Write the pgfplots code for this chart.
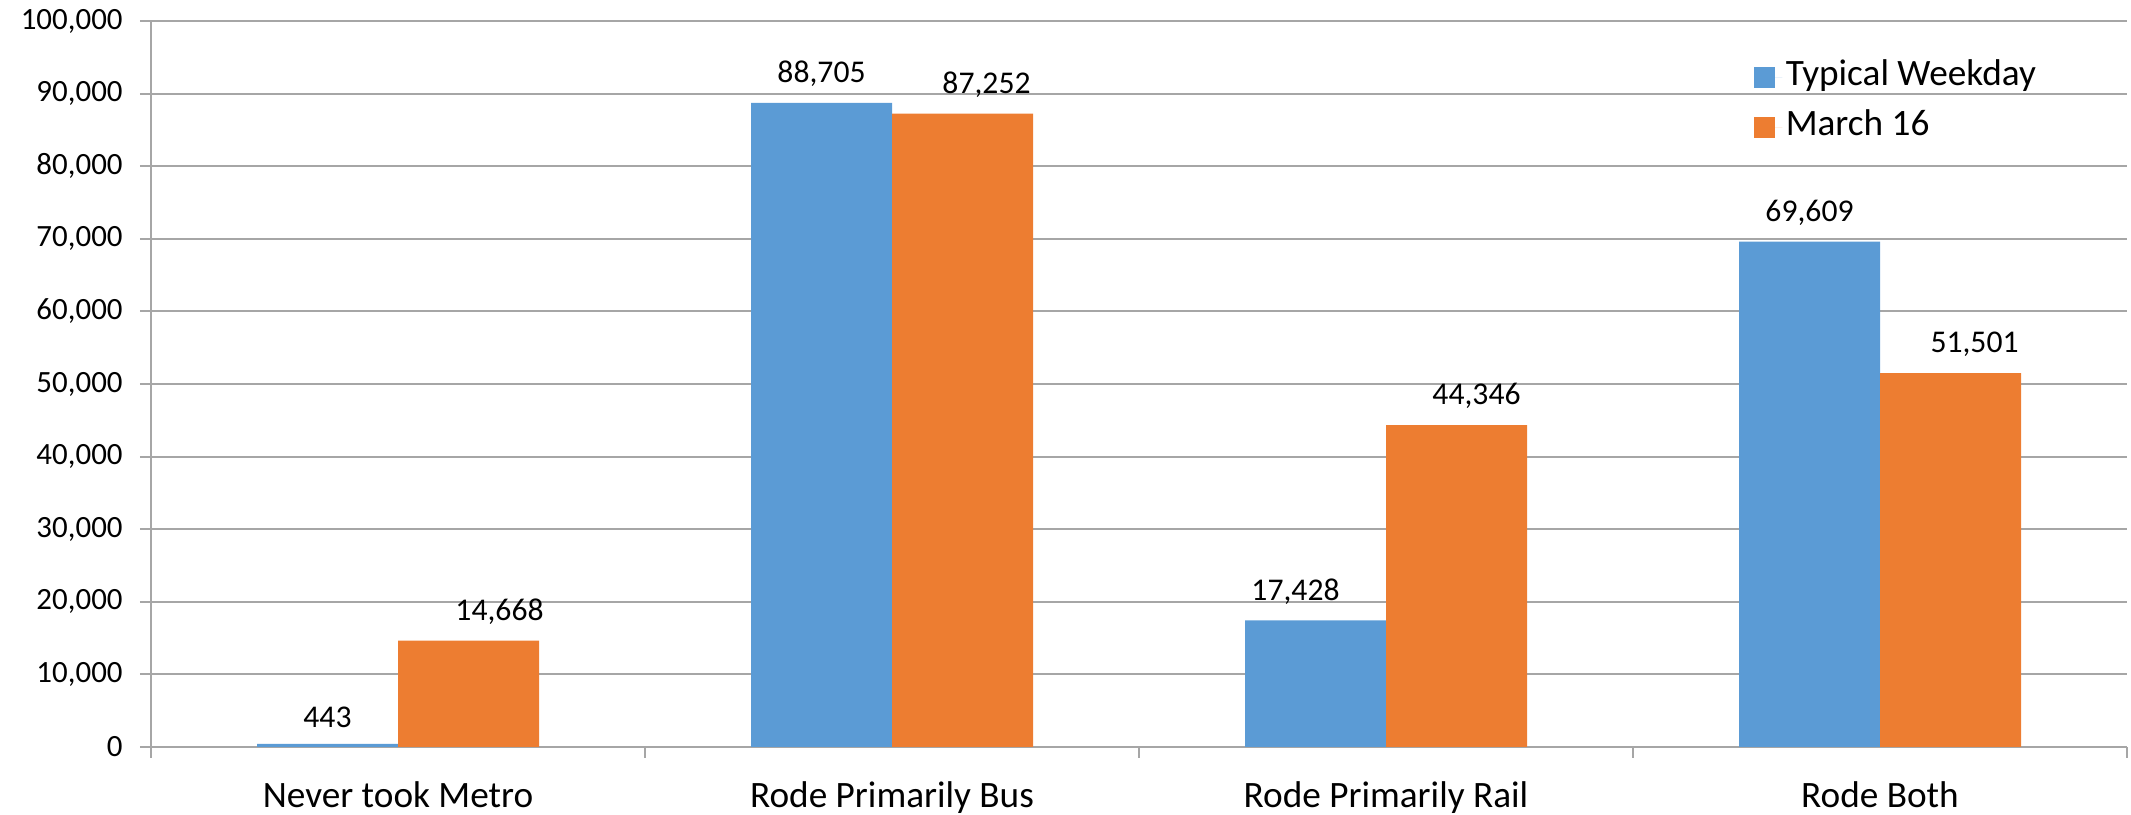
\documentclass[border=0pt]{standalone}
\usepackage{pgfplots}
\pgfplotsset{compat=1.18}
\usepackage{fontspec}
\setmainfont{Carlito}
\definecolor{wkblue}{HTML}{5B9BD5}
\definecolor{mrorange}{HTML}{ED7D31}
\definecolor{gridgray}{HTML}{A6A6A6}

\begin{document}
\begin{tikzpicture}
\begin{axis}[
    scale only axis,
    width=197.6mm, height=72.6mm,
    ybar=0pt, bar width=14.1mm,
    xmin=-0.5, xmax=3.5,
    ymin=0, ymax=100000,
    axis x line*=bottom, axis y line*=left,
    axis line style={gridgray, line width=0.2mm, -},
    xtick={-0.5,0.5,1.5,2.5,3.5},
    x tick label as interval,
    xticklabels={Never took Metro, Rode Primarily Bus, Rode Primarily Rail, Rode Both},
    ytick={0,10000,...,100000},
    tick align=outside,
    major tick length=1.1mm,
    tick style={gridgray, line width=0.2mm},
    ymajorgrids,
    grid style={gridgray, line width=0.2mm},
    scaled y ticks=false,
    /pgf/number format/fixed,
    /pgf/number format/1000 sep={,},
    /pgf/number format/assume math mode=true,
    xticklabel style={font=\fontsize{10.6}{12}\selectfont, yshift=-1.1mm},
    yticklabel style={font=\fontsize{8.8}{10}\selectfont, xshift=-0.5mm},
    nodes near coords,
    every node near coord/.append style={font=\fontsize{9}{10}\selectfont, yshift=0.4mm},
    legend style={at={(0.811,0.951)}, anchor=north west, draw=none, fill=none,
        font=\fontsize{10.6}{12}\selectfont, row sep=1mm, inner sep=0pt,
        nodes={inner sep=1pt, text height=0.7em, text depth=0.25em}},
    legend image code/.code={\fill[#1] (0mm,-1.05mm) rectangle (2.1mm,1.05mm);
        \path (0mm,0mm) -- (2.8mm,0mm);},
    legend cell align=left,
]
\addplot[fill=wkblue, draw=none,
    coordinate style/.condition={x==2}{xshift=-2mm}]
    coordinates {(0,443) (1,88705) (2,17428) (3,69609)};
\addplot[fill=mrorange, draw=none,
    every node near coord/.append style={xshift=2.4mm},
    coordinate style/.condition={x==0}{xshift=0.7mm},
    coordinate style/.condition={x==2}{xshift=-0.4mm}]
    coordinates {(0,14668) (1,87252) (2,44346) (3,51501)};
\legend{Typical Weekday, March 16}
\end{axis}
\pgfresetboundingbox
\path (-15.1mm,-6.8mm) rectangle (198.0mm,74.7mm);
\end{tikzpicture}
\end{document}
